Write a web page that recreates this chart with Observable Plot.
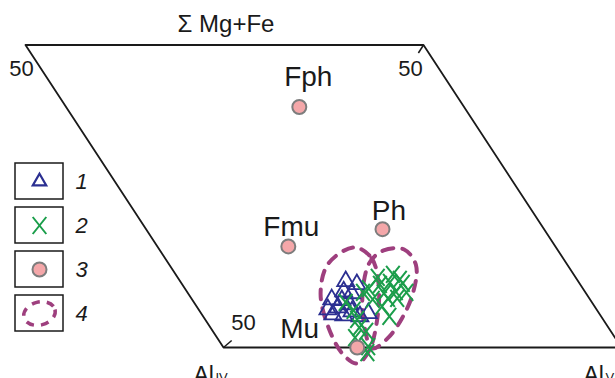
<!DOCTYPE html>
<html><head><meta charset="utf-8">
<script src="https://cdn.jsdelivr.net/npm/d3@7"></script>
<script src="https://cdn.jsdelivr.net/npm/@observablehq/plot@0.6"></script>
<style>
body{margin:0;background:#fff;}
#wrap{position:relative;width:615px;height:378px;overflow:hidden;}
#legend{position:absolute;left:0;top:158px;}
</style></head><body><div id="wrap"><div id="main"></div><div id="legend"></div></div>
<script>
// Diagram coordinates: u = AlIV → AlVI (percent along the base), v = Σ Mg+Fe (percent of height)
const frameU = [0, 100, 100, 0];
const frameV = [0, 0, 100, 100];
const cornerLabel = "50";
const topTitle = "Σ Mg+Fe";

// 3: end-member compositions
const minerals = ["Fph", "Ph", "Fmu", "Mu"];
const mineralU = [58.6, 59.4, 32.9, 33.6];
const mineralV = [79.5, 39.1, 33.4, 0];

// 1: triangles
const triU = [41.6, 43.9, 39.4, 41.1, 35.1, 37.5, 32.5, 35.3, 32.9, 35.5, 38.2, 39.4, 42.0, 38.8];
const triV = [21.9, 20.9, 18.5, 17.9, 15.9, 15.6, 12.6, 13.2, 10.9, 10.6, 11.9, 10.3, 11.3, 14.2];

// 2: crosses
const crossU = [50.3, 54.6, 55.5, 49.7, 52.5, 55.6, 46.2, 44.1, 49.2, 52.5, 55.0, 49.4, 45.4, 38.1, 46.6, 46.8, 38.8, 38.2, 37.4, 38.5, 34.7, 36.5, 35.3, 51.7];
const crossV = [23.2, 24.2, 22.5, 20.9, 21.5, 21.2, 19.5, 18.2, 17.9, 18.5, 18.2, 16.2, 15.9, 14.9, 13.6, 10.3, 12.3, 9.3, 6.6, 5.3, 3.3, 0.3, -1.7, 16.2];

// 4: dashed field outlines
const leftLoopU = [49.4, 51.9, 49.2, 43.0, 36.1, 31.0, 28.9, 29.6, 33.3, 40.2];
const leftLoopV = [33.1, 29.5, 20.5, 8.9, -1.0, -5.3, -2.3, 6.3, 17.9, 27.8];
const rightLoopU = [50.7, 56.2, 61.5, 61.9, 56.7, 49.6, 42.7, 37.2, 39.0, 44.4];
const rightLoopV = [28.1, 32.1, 32.4, 27.2, 18.2, 9.6, 3.0, -0.3, 7.3, 18.9];

// legend
const legendItems = ["1", "2", "3", "4"];

// ---- tables built from the arrays ----
const frame = frameU.map((u, i) => ({u, v: frameV[i]}));
const mins = minerals.map((name, i) => ({name, u: mineralU[i], v: mineralV[i]}));
const tris = triU.map((u, i) => ({u, v: triV[i]}));
const crosses = crossU.map((u, i) => ({u, v: crossV[i]}));
const loops = [
  ...leftLoopU.map((u, i) => ({loop: "a", u, v: leftLoopV[i]})),
  ...rightLoopU.map((u, i) => ({loop: "b", u, v: rightLoopV[i]}))
];

const K = 0.4975; // skew of the parallelogram
const X = d => d.u - K * d.v;

const FONT = "'Liberation Sans', Arial, Helvetica, sans-serif";
const PURPLE = "#9e3f7e", BLUE = "#2b2f91", GREEN = "#1b9e4b", PINK = "#f4a7a9", GREY = "#7d7d7d", INK = "#1a1a1a";

const crossSym = {draw(ctx, size) {
  const r = Math.sqrt(size / Math.PI), w = 0.8 * r;
  ctx.moveTo(-w, -r); ctx.lineTo(w, r); ctx.moveTo(w, -r); ctx.lineTo(-w, r);
}};
const ellipseSym = {draw(ctx, size) {
  const r = Math.sqrt(size / Math.PI), rx = r, ry = 0.72 * r, k = 0.5523, a = -0.25;
  const p = (x, y) => [x * Math.cos(a) - y * Math.sin(a), x * Math.sin(a) + y * Math.cos(a)];
  const m = p(rx, 0); ctx.moveTo(m[0], m[1]);
  const segs = [
    [[rx, k * ry], [k * rx, ry], [0, ry]],
    [[-k * rx, ry], [-rx, k * ry], [-rx, 0]],
    [[-rx, -k * ry], [-k * rx, -ry], [0, -ry]],
    [[k * rx, -ry], [rx, -k * ry], [rx, 0]]
  ];
  for (const s of segs) { const [a1, a2, a3] = s.map(q => p(q[0], q[1])); ctx.bezierCurveTo(a1[0], a1[1], a2[0], a2[1], a3[0], a3[1]); }
  ctx.closePath();
}};

const label = (name, dx, dy) => Plot.text(mins.filter(d => d.name === name), {x: X, y: "v", text: "name", dx, dy, fontSize: 28, fill: INK});
const at = (u, v, text, o) => Plot.text([{u, v, text}], {x: X, y: "v", text: "text", fill: INK, ...o});

const main = Plot.plot({
  width: 615, height: 378, margin: 0,
  style: {fontFamily: FONT, background: "white", overflow: "visible"},
  x: {domain: [-56.03, 98.49], axis: null},
  y: {domain: [-10.25, 114.71], axis: null},
  marks: [
    Plot.line(frame, {x: X, y: "v", curve: "linear-closed", stroke: INK, strokeWidth: 1.8}),
    Plot.link([{u1: 100, v1: 100, u2: 97.4, v2: 97.35}, {u1: 0, v1: 0, u2: 3.2, v2: 2.3}], {
      x1: d => d.u1 - K * d.v1, y1: "v1", x2: d => d.u2 - K * d.v2, y2: "v2", stroke: INK, strokeWidth: 1.5}),
    Plot.line(loops, {x: X, y: "v", z: "loop", curve: "catmull-rom-closed", stroke: PURPLE, strokeWidth: 4, strokeDasharray: "10,9"}),
    Plot.dot(tris, {x: X, y: "v", symbol: "triangle", r: 6.3, fill: "none", stroke: BLUE, strokeWidth: 1.8}),
    Plot.dot(crosses, {x: X, y: "v", symbol: crossSym, r: 8.5, fill: "none", stroke: GREEN, strokeWidth: 2}),
    Plot.dot(mins, {x: X, y: "v", r: 7, fill: PINK, stroke: GREY, strokeWidth: 2}),
    label("Fph", 9, -30),
    label("Ph", 6.5, -18.5),
    label("Fmu", 3, -19),
    label("Mu", -57.5, -18),
    at(50, 100, topTitle, {dx: 1.5, dy: -21, fontSize: 24}),
    at(0, 100, cornerLabel, {dx: -4, dy: 24, fontSize: 22}),
    at(100, 100, cornerLabel, {dx: -13, dy: 24, fontSize: 22}),
    at(0, 0, cornerLabel, {dx: 20, dy: -25, fontSize: 22}),
    at(0, 0, "Al", {dx: -30, dy: 28, fontSize: 23, textAnchor: "start"}),
    at(0, 0, "IV", {dx: -8, dy: 30, fontSize: 13, textAnchor: "start"}),
    at(100, 0, "Al", {dx: -38, dy: 28, fontSize: 23, textAnchor: "start"}),
    at(100, 0, "VI", {dx: -16, dy: 30, fontSize: 13, textAnchor: "start"})
  ]
});
document.getElementById("main").appendChild(main);

const B = () => "box";
const legend = Plot.plot({
  width: 110, height: 180, margin: 0,
  style: {fontFamily: FONT, background: "transparent", overflow: "visible"},
  x: {type: "band", domain: ["box"], range: [15, 63], padding: 0, axis: null},
  y: {type: "band", domain: legendItems, range: [5, 174], paddingInner: 0.18, paddingOuter: 0, axis: null},
  marks: [
    Plot.cell(legendItems, {x: B, y: d => d, fill: "white", stroke: INK, strokeWidth: 1.5}),
    Plot.dot(legendItems.filter(d => d === "1"), {x: B, y: d => d, symbol: "triangle", r: 5, fill: "none", stroke: BLUE, strokeWidth: 2.2}),
    Plot.dot(legendItems.filter(d => d === "2"), {x: B, y: d => d, symbol: crossSym, r: 8.5, fill: "none", stroke: GREEN, strokeWidth: 2}),
    Plot.dot(legendItems.filter(d => d === "3"), {x: B, y: d => d, r: 7, fill: PINK, stroke: GREY, strokeWidth: 2}),
    Plot.dot(legendItems.filter(d => d === "4"), {x: B, y: d => d, symbol: ellipseSym, r: 16, fill: "none", stroke: PURPLE, strokeWidth: 3.5, strokeDasharray: "8,7"}),
    Plot.text(legendItems, {x: B, y: d => d, text: d => d, dx: 36, textAnchor: "start", fontSize: 22, fontStyle: "italic", fill: INK})
  ]
});
document.getElementById("legend").appendChild(legend);
</script>
</body></html>
